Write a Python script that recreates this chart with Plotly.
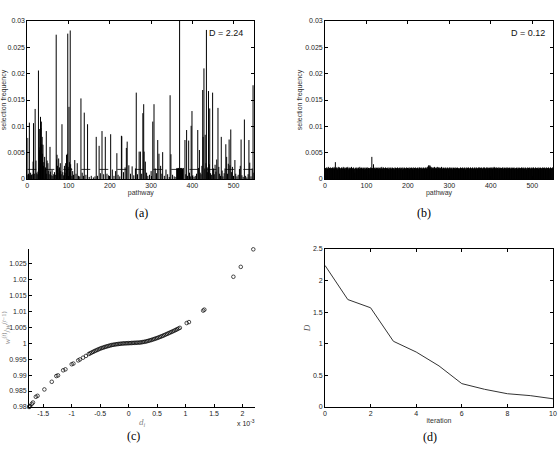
import plotly.graph_objects as go

# ------------------------------------------------------------------ data
pathway_ticks = [0, 100, 200, 300, 400, 500]
pathway_ticktext = ["0", "100", "200", "300", "400", "500"]
freq_ticks = [0, 0.005, 0.01, 0.015, 0.02, 0.025, 0.03]
freq_ticktext = ["0", "0.005", "0.01", "0.015", "0.02", "0.025", "0.03"]
n_pathways = 550
uniform_level = 0.00182          # dashed line in (a)
D_start_label = "D = 2.24"
D_end_label = "D = 0.12"

# (a) selection frequency (units of 1e-3) of pathways, iteration 0: (pathway, value)
sel_a = [
    (0, 0.8), (1, 7.8), (2, 0.9), (3, 1.0), (5, 10.7), (6, 0.7), (8, 1.2), (10, 0.8), (12, 0.9),
    (14, 3.3), (15, 10.6), (17, 1.0), (19, 13.3), (21, 3.5), (23, 1.2), (24, 0.9), (26, 1.4),
    (27, 20.6), (28, 2.0), (29, 5.5), (30, 9.5), (31, 6.0), (32, 11.8), (33, 9.7), (34, 10.9),
    (35, 6.6), (36, 8.0), (37, 4.8), (38, 6.5), (39, 2.5), (40, 3.2), (42, 4.2), (43, 1.8),
    (44, 2.2), (46, 9.1), (47, 1.0), (48, 3.5), (50, 3.0), (51, 1.6), (53, 0.9), (55, 6.1),
    (56, 1.4), (58, 0.7), (60, 1.7), (62, 0.6), (64, 0.9), (66, 1.3), (68, 0.8), (70, 27.4),
    (71, 3.7), (72, 4.6), (73, 2.5), (74, 1.9), (76, 3.9), (77, 1.2), (78, 2.2), (80, 3.0),
    (81, 1.5), (82, 0.9), (84, 10.4), (86, 1.3), (88, 0.7), (90, 2.5), (91, 1.2), (93, 3.0),
    (94, 1.1), (95, 4.6), (96, 2.0), (97, 4.8), (98, 27.6), (99, 2.3), (101, 13.7), (102, 3.2),
    (103, 1.4), (104, 28.2), (105, 2.8), (106, 2.1), (108, 0.6), (110, 1.5), (112, 0.8),
    (115, 3.6), (118, 1.0), (121, 3.0), (124, 0.6), (127, 0.5), (130, 15.3), (133, 1.2),
    (136, 0.6), (138, 12.6), (142, 0.8), (146, 10.4), (150, 0.4), (155, 0.6), (160, 0.3),
    (164, 0.5), (167, 8.0), (170, 0.6), (174, 6.3), (177, 1.1), (181, 9.1), (185, 0.9),
    (189, 8.0), (193, 1.0), (197, 0.7), (202, 8.5), (206, 1.8), (210, 0.6), (214, 1.5),
    (217, 4.9), (220, 0.8), (224, 0.5), (228, 8.2), (229, 8.1), (233, 1.3), (237, 2.2),
    (240, 5.9), (242, 7.1), (246, 2.6), (250, 1.0), (254, 2.4), (258, 0.7), (262, 2.0),
    (264, 16.4), (267, 0.9), (271, 5.2), (274, 5.2), (277, 1.0), (280, 12.5), (282, 14.2),
    (283, 5.2), (286, 3.3), (289, 1.2), (292, 0.6), (296, 0.8), (300, 1.5), (304, 10.9),
    (307, 14.2), (310, 2.0), (313, 1.1), (316, 7.4), (319, 4.8), (323, 2.5), (326, 1.0),
    (328, 5.1), (332, 0.6), (336, 1.8), (340, 0.9), (344, 0.4), (346, 15.9), (348, 4.7),
    (352, 0.8), (356, 0.5), (360, 0.4),
    (362, 2.0), (363, 2.1), (364, 1.9), (365, 2.0), (366, 2.1), (367, 2.0), (368, 1.9),
    (369, 40.0), (370, 2.0), (371, 2.1), (372, 1.9), (373, 2.0), (374, 2.1), (375, 2.0),
    (376, 1.9), (377, 2.0), (378, 2.1),
    (382, 7.4), (384, 0.9), (386, 9.3), (388, 0.6), (391, 7.3), (393, 1.2), (395, 0.5),
    (397, 10.1), (399, 12.9), (401, 0.7), (404, 0.4), (407, 0.6), (410, 1.0), (413, 9.3),
    (415, 2.1), (417, 5.5), (419, 1.2), (421, 0.9), (423, 2.5), (425, 16.9), (426, 8.0),
    (428, 21.0), (430, 2.0), (431, 8.4), (433, 3.0), (434, 28.3), (436, 2.2), (437, 1.3),
    (439, 16.7), (441, 2.8), (442, 13.4), (444, 1.1), (446, 0.8), (449, 16.4), (451, 2.0),
    (453, 0.9), (455, 2.7), (457, 1.4), (459, 3.7), (462, 13.5), (464, 2.3), (466, 1.0),
    (468, 0.6), (470, 8.0), (472, 1.6), (474, 0.5), (477, 1.1), (479, 2.0), (481, 6.6),
    (483, 4.2), (485, 1.0), (487, 2.9), (489, 7.5), (491, 2.6), (493, 9.4), (495, 1.3),
    (497, 2.3), (500, 0.6), (503, 3.6), (505, 1.0), (508, 0.5), (511, 0.8), (514, 1.9),
    (516, 2.5), (518, 7.5), (520, 0.7), (523, 0.4), (526, 11.3), (529, 0.6), (532, 0.3),
    (535, 0.9), (537, 7.4), (539, 3.1), (542, 0.5), (545, 2.0), (547, 17.8), (549, 1.2),
]

# (b) selection frequency (units of 1e-4) of pathways 0..549, final iteration
sel_b = [
    19, 21, 20, 18, 22, 20, 19, 21, 23, 20, 18, 21, 20, 22, 19, 20, 21, 18, 22, 20, 21, 19, 23, 20, 21,
    32, 21, 19, 22, 20, 18, 21, 23, 20, 19, 22, 21, 20, 18, 21, 22, 20, 19, 21, 23, 20, 21, 19, 22, 18,
    21, 20, 22, 19, 21, 23, 20, 18, 21, 20, 22, 19, 21, 20, 23, 19, 20, 21, 18, 22, 20, 19, 12, 21, 20,
    22, 19, 21, 20, 18, 22, 21, 20, 19, 23, 21, 20, 18, 21, 22, 20, 19, 21, 20, 22, 18, 21, 20, 19, 22,
    21, 20, 19, 22, 18, 21, 9, 20, 21, 20, 22, 19, 21, 42, 20, 21, 19, 28, 22, 20, 21, 19, 20, 22, 21,
    20, 19, 21, 22, 20, 18, 21, 20, 22, 19, 21, 20, 23, 19, 20, 21, 22, 18, 21, 20, 19, 22, 20, 21, 19,
    21, 20, 22, 19, 20, 21, 18, 22, 20, 21, 19, 20, 22, 21, 19, 20, 21, 20, 18, 22, 21, 19, 20, 21, 20,
    22, 19, 20, 21, 18, 21, 22, 20, 19, 21, 20, 22, 18, 21, 20, 19, 22, 21, 20, 19, 21, 20, 22, 19, 21,
    20, 21, 19, 22, 20, 18, 21, 20, 22, 21, 19, 20, 21, 22, 18, 20, 21, 19, 22, 20, 21, 20, 19, 21, 22,
    20, 19, 21, 22, 20, 21, 18, 22, 20, 21, 19, 20, 22, 21, 20, 19, 21, 22, 20, 21, 19, 22, 20, 23, 24,
    26, 25, 22, 26, 24, 21, 23, 20, 22, 21, 19, 22, 20, 21, 23, 20, 19, 21, 22, 20, 21, 23, 19, 20, 22,
    21, 20, 22, 19, 21, 20, 23, 21, 19, 20, 22, 21, 20, 19, 21, 22, 20, 21, 19, 20, 22, 21, 20, 19, 21,
    22, 20, 21, 19, 22, 20, 21, 20, 18, 22, 21, 19, 20, 21, 22, 20, 19, 21, 20, 22, 21, 19, 20, 21, 20,
    19, 21, 22, 20, 21, 19, 20, 22, 21, 20, 19, 21, 22, 20, 18, 21, 20, 22, 19, 21, 20, 22, 21, 19, 20,
    21, 22, 20, 19, 21, 20, 22, 21, 19, 20, 21, 22, 20, 19, 21, 22, 20, 21, 20, 19, 22, 21, 20, 22, 19,
    21, 20, 22, 21, 20, 19, 21, 22, 20, 21, 22, 20, 19, 21, 20, 22, 21, 20, 22, 21, 19, 20, 21, 22, 20,
    21, 22, 20, 21, 19, 22, 21, 20, 23, 21, 22, 20, 21, 19, 22, 20, 21, 20, 22, 19, 21, 20, 22, 21, 20,
    19, 21, 20, 22, 21, 20, 19, 22, 21, 20, 21, 19, 22, 20, 21, 20, 22, 19, 21, 20, 21, 22, 20, 19, 21,
    20, 22, 21, 19, 20, 21, 22, 20, 19, 21, 20, 18, 21, 22, 20, 19, 21, 20, 22, 21, 19, 20, 21, 18, 22,
    20, 21, 19, 22, 20, 21, 20, 19, 22, 21, 20, 18, 21, 20, 22, 19, 21, 20, 21, 22, 20, 19, 21, 20, 22,
    21, 19, 20, 22, 21, 20, 19, 21, 22, 20, 21, 19, 20, 21, 22, 20, 18, 21, 20, 22, 21, 19, 20, 21, 20,
    22, 19, 21, 20, 22, 21, 19, 20, 21, 22, 20, 19, 21, 20, 22, 21, 20, 19, 21, 22, 20, 21, 19, 20, 22,
]

# (c) d_i (units of 1e-3) versus weight ratio w(t)/w(t-1)
d_i = [
    -1.76, -1.75, -1.74, -1.73, -1.70, -1.68, -1.63, -1.60, -1.48, -1.35, -1.27, -1.24,
    -1.15, -1.11, -1.00, -0.97, -0.885, -0.855, -0.80, -0.75,
    -0.700, -0.675, -0.650, -0.625, -0.600, -0.575, -0.550, -0.525, -0.500, -0.475,
    -0.450, -0.425, -0.400, -0.375, -0.350, -0.325, -0.300, -0.275, -0.250, -0.225,
    -0.200, -0.175, -0.150, -0.125, -0.100, -0.075, -0.050, -0.025, 0.000, 0.025,
    0.050, 0.075, 0.100, 0.125, 0.150, 0.175, 0.200, 0.225, 0.250, 0.275,
    0.300, 0.325, 0.350, 0.375, 0.400, 0.425, 0.450, 0.475, 0.500, 0.525,
    0.550, 0.575, 0.600, 0.625, 0.650, 0.675, 0.700, 0.725, 0.750, 0.775,
    0.800, 0.825, 0.850, 0.875, 0.900,
    1.02, 1.06, 1.31, 1.33, 1.84, 1.97, 2.19,
]
w_ratio = [
    0.9798, 0.9800, 0.9802, 0.9803, 0.9810, 0.9814, 0.9832, 0.9835, 0.9855, 0.9879, 0.9897, 0.9899,
    0.9915, 0.9918, 0.9934, 0.9936, 0.9946, 0.9949, 0.99545, 0.9960,
    0.99660, 0.99683, 0.99705, 0.99727, 0.99750, 0.99770, 0.99790, 0.99810, 0.99830, 0.99845,
    0.99860, 0.99875, 0.99890, 0.99902, 0.99915, 0.99928, 0.99940, 0.99948, 0.99955, 0.99963,
    0.99970, 0.99975, 0.99980, 0.99985, 0.99990, 0.99993, 0.99995, 0.99998, 1.00000, 1.00002,
    1.00005, 1.00007, 1.00010, 1.00012, 1.00015, 1.00017, 1.00020, 1.00027, 1.00035, 1.00042,
    1.00050, 1.00062, 1.00075, 1.00087, 1.00100, 1.00115, 1.00130, 1.00145, 1.00160, 1.00177,
    1.00195, 1.00212, 1.00230, 1.00250, 1.00270, 1.00290, 1.00310, 1.00330, 1.00350, 1.00370,
    1.00390, 1.00412, 1.00435, 1.00457, 1.00480,
    1.0063, 1.0066, 1.0102, 1.0105, 1.0208, 1.0239, 1.0294,
]
d_ticks = [-1.5, -1, -0.5, 0, 0.5, 1, 1.5, 2]
d_ticktext = ["-1.5", "-1", "-0.5", "0", "0.5", "1", "1.5", "2"]
w_ticks = [0.98, 0.985, 0.99, 0.995, 1.0, 1.005, 1.01, 1.015, 1.02, 1.025]
w_ticktext = ["0.98", "0.985", "0.99", "0.995", "1", "1.005", "1.01", "1.015", "1.02", "1.025"]

# (d) divergence D per iteration
iteration = [0, 1, 2, 3, 4, 5, 6, 7, 8, 9, 10]
D_values = [2.24, 1.70, 1.57, 1.04, 0.87, 0.65, 0.37, 0.28, 0.21, 0.18, 0.13]
iter_ticks = [0, 2, 4, 6, 8, 10]
iter_ticktext = ["0", "2", "4", "6", "8", "10"]
D_ticks = [0, 0.5, 1, 1.5, 2, 2.5]
D_ticktext = ["0", "0.5", "1", "1.5", "2", "2.5"]

# ------------------------------------------------------------------ layout helpers
W, H = 558, 451
SANS = "Liberation Sans"
SERIF = "Liberation Serif"


def px(x):
    return x / W


def py(y):
    return 1 - y / H


def stems(xs, ys):
    sx, sy = [], []
    for x, y in zip(xs, ys):
        sx += [x, x, None]
        sy += [0, y, None]
    return sx, sy


def axis(dom, anchor, rng, tv, tt, title, tsize=7, tfamily=SANS, tcolor="#333",
         standoff=2, mirror=True):
    return dict(
        domain=dom, anchor=anchor, range=rng, tickvals=tv, ticktext=tt,
        ticks="inside", ticklen=3, tickwidth=0.7, tickcolor="black",
        showline=True, linecolor="black", linewidth=0.8,
        mirror="allticks" if mirror else False,
        showgrid=False, zeroline=False, fixedrange=True, automargin=False,
        tickfont=dict(family=SANS, size=7, color="#222"),
        title=dict(text=title, standoff=standoff,
                   font=dict(family=tfamily, size=tsize, color=tcolor)),
    )


fig = go.Figure()

# (a)
a_x = [p for p, v in sel_a]
a_y = [v * 1e-3 for p, v in sel_a]
sx, sy = stems(a_x, a_y)
fig.add_trace(go.Scatter(x=[0, n_pathways], y=[uniform_level, uniform_level], mode="lines",
                         line=dict(color="black", width=0.8, dash="dash"),
                         xaxis="x", yaxis="y", hoverinfo="skip"))
fig.add_trace(go.Scatter(x=sx, y=sy, mode="lines", line=dict(color="black", width=1),
                         xaxis="x", yaxis="y", hoverinfo="skip"))

# (b)
b_x = list(range(len(sel_b)))
b_y = [v * 1e-4 for v in sel_b]
sx, sy = stems(b_x, b_y)
fig.add_trace(go.Scatter(x=sx, y=sy, mode="lines", line=dict(color="black", width=1),
                         xaxis="x2", yaxis="y2", hoverinfo="skip"))

# (c)
fig.add_trace(go.Scatter(x=d_i, y=w_ratio, mode="markers",
                         marker=dict(symbol="circle-open", size=3.6, color="black",
                                     line=dict(width=0.7, color="black")),
                         cliponaxis=False, xaxis="x3", yaxis="y3", hoverinfo="skip"))

# (d)
fig.add_trace(go.Scatter(x=iteration, y=D_values, mode="lines",
                         line=dict(color="#333", width=1),
                         xaxis="x4", yaxis="y4", hoverinfo="skip"))

top_dom = [py(179), py(21)]
bot_dom = [py(407), py(249)]

w_title = "<i>w</i><sup>(<i>t</i>)</sup>/<i>w</i><sup>(<i>t</i>−1)</sup>"

fig.update_layout(
    width=W, height=H, margin=dict(l=0, r=0, t=0, b=0),
    paper_bgcolor="white", plot_bgcolor="white", showlegend=False,
    font=dict(family=SANS, size=7, color="#222"),
    xaxis=axis([px(27.3), px(254.3)], "y", [0, n_pathways], pathway_ticks, pathway_ticktext,
               "pathway", standoff=1),
    yaxis=axis(top_dom, "x", [0, 0.03], freq_ticks, freq_ticktext,
               "selection frequency", standoff=1),
    xaxis2=axis([px(325), px(553)], "y2", [0, n_pathways], pathway_ticks, pathway_ticktext,
                "pathway", standoff=1),
    yaxis2=axis(top_dom, "x2", [0, 0.03], freq_ticks, freq_ticktext,
                "selection frequency", standoff=1),
    xaxis3=axis([px(29), px(255)], "y3", [-1.75, 2.22], d_ticks, d_ticktext,
                "<i>d<sub>i</sub></i>", tsize=9, tfamily=SERIF, tcolor="#888",
                standoff=2, mirror=False),
    yaxis3=axis(bot_dom, "x3", [0.98, 1.0295], w_ticks, w_ticktext,
                w_title, tsize=9, tfamily=SERIF, tcolor="#888", standoff=2, mirror=False),
    xaxis4=axis([px(325), px(553)], "y4", [0, 10], iter_ticks, iter_ticktext,
                "iteration", standoff=1),
    yaxis4=axis(bot_dom, "x4", [0, 2.5], D_ticks, D_ticktext,
                "<i>D</i>", tsize=9, tfamily=SERIF, tcolor="#555", standoff=0),
)

ann = []


def label(x, y, text, size=7, family=SANS, color="#222", angle=0, xanchor="center"):
    ann.append(dict(x=px(x), y=py(y), xref="paper", yref="paper", text=text, showarrow=False,
                    textangle=angle, xanchor=xanchor, yanchor="middle",
                    font=dict(family=family, size=size, color=color)))


# in-plot D labels
ann.append(dict(x=435, y=0.0277, xref="x", yref="y", text=D_start_label, showarrow=False,
                xanchor="left", yanchor="middle", font=dict(family=SANS, size=9, color="#111")))
ann.append(dict(x=444, y=0.0277, xref="x2", yref="y2", text=D_end_label, showarrow=False,
                xanchor="left", yanchor="middle", font=dict(family=SANS, size=9, color="#111")))

label(246, 423, "x 10<sup>-3</sup>", size=7, color="#222")

# panel letters
label(141, 213, "(a)", size=12, family=SERIF, color="black")
label(424, 213, "(b)", size=12, family=SERIF, color="black")
label(133, 436, "(c)", size=12, family=SERIF, color="black")
label(430, 437, "(d)", size=12, family=SERIF, color="black")

fig.update_layout(annotations=ann)
fig.write_html("out.html")
